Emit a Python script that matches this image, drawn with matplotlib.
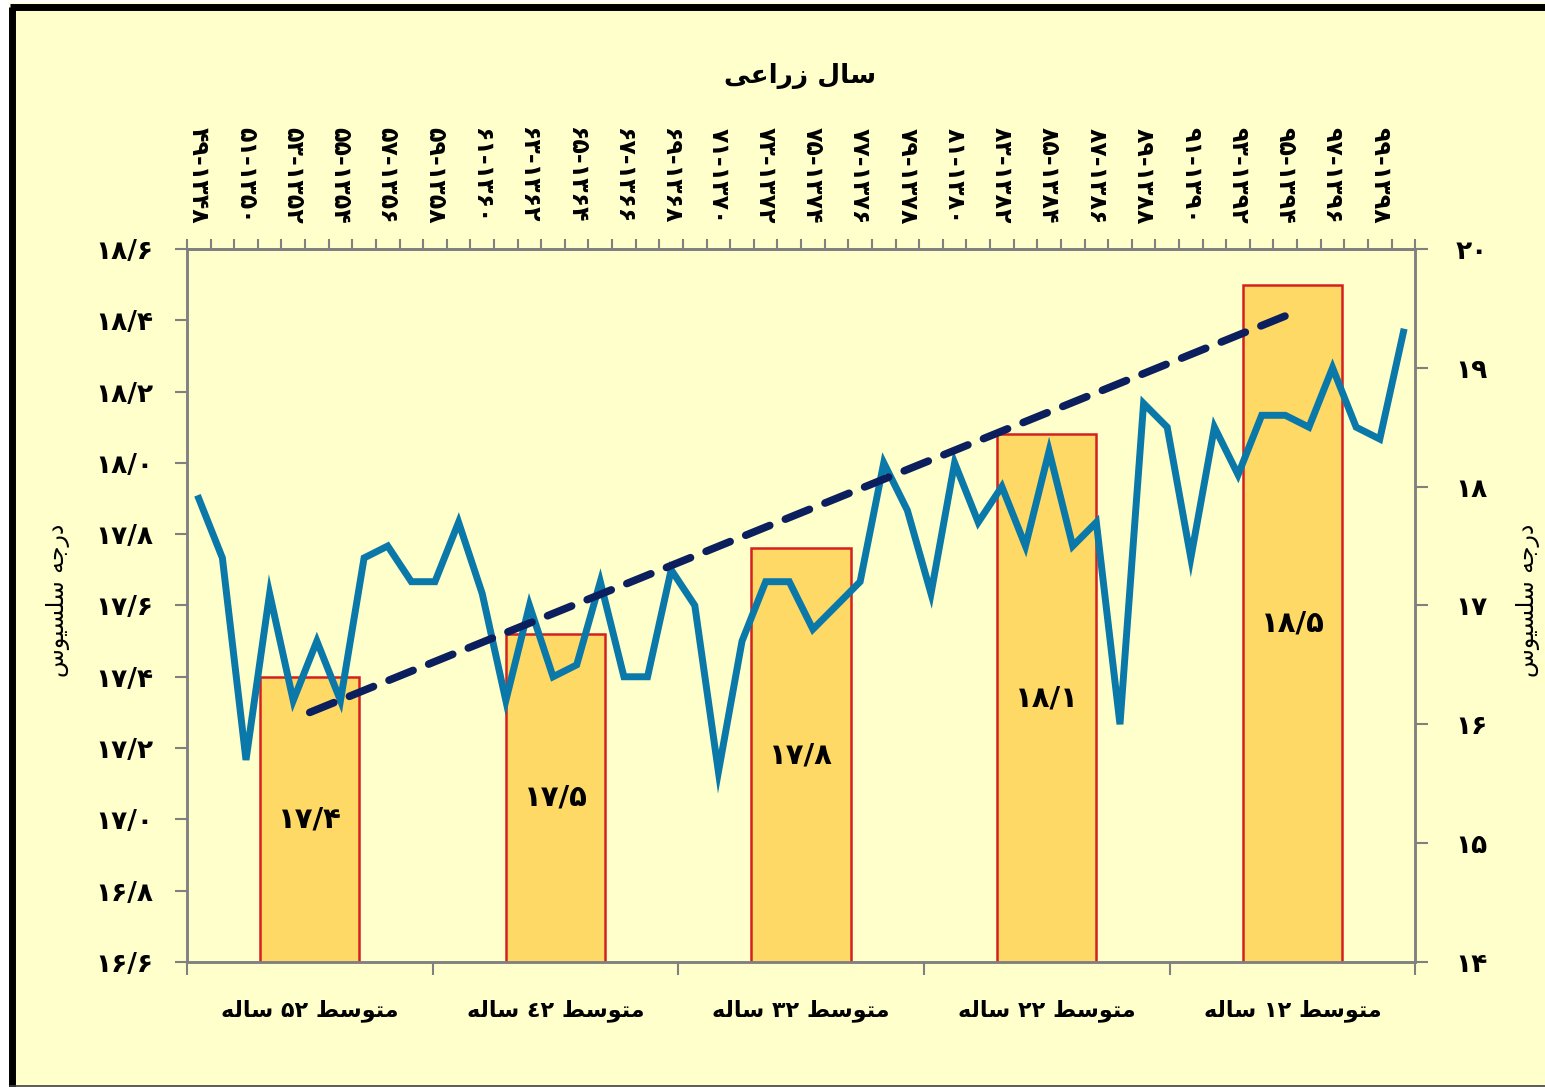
import numpy as np
import matplotlib
matplotlib.use("Agg")
import matplotlib.pyplot as plt
from matplotlib.patches import Rectangle
from matplotlib.lines import Line2D

# ------------------------------------------------------------
# DATA
# ------------------------------------------------------------
categories = ["متوسط ۵۲ ساله", "متوسط ٤۲ ساله", "متوسط ۳۲ ساله",
              "متوسط ۲۲ ساله", "متوسط ۱۲ ساله"]
bar_values = [17.4, 17.52, 17.76, 18.08, 18.5]

years = list(range(1348, 1400))  # سال زراعی 1348-49 ... 1399-1400
annual_temp = [17.9, 17.4, 15.7, 17.1, 16.2, 16.7, 16.2, 17.4, 17.5, 17.2,
               17.2, 17.7, 17.1, 16.2, 17.0, 16.4, 16.5, 17.2, 16.4, 16.4,
               17.3, 17.0, 15.6, 16.7, 17.2, 17.2, 16.8, 17.0, 17.2, 18.2,
               17.8, 17.1, 18.2, 17.7, 18.0, 17.5, 18.3, 17.5, 17.7, 16.0,
               18.7, 18.5, 17.4, 18.5, 18.1, 18.6, 18.6, 18.5, 19.0, 18.5,
               18.4, 19.3]

trend_ends = [17.3, 18.42]   # روند خطی (محور چپ) در اولین و آخرین ستون

left_ticks = [16.6, 16.8, 17.0, 17.2, 17.4, 17.6, 17.8, 18.0, 18.2, 18.4, 18.6]
right_ticks = [14, 15, 16, 17, 18, 19, 20]

# ------------------------------------------------------------
# HELPERS: persian digits + simple arabic shaping (no bidi in mpl)
# ------------------------------------------------------------
FA_DIGITS = str.maketrans("0123456789", "۰۱۲۳۴۵۶۷۸۹")

# isolated, final, initial, medial
FORMS = {
    "ا": ("\uFE8D", "\uFE8E", None, None),
    "د": ("\uFEA9", "\uFEAA", None, None),
    "ر": ("\uFEAD", "\uFEAE", None, None),
    "ز": ("\uFEAF", "\uFEB0", None, None),
    "و": ("\uFEED", "\uFEEE", None, None),
    "ت": ("\uFE95", "\uFE96", "\uFE97", "\uFE98"),
    "ج": ("\uFE9D", "\uFE9E", "\uFE9F", "\uFEA0"),
    "س": ("\uFEB1", "\uFEB2", "\uFEB3", "\uFEB4"),
    "ط": ("\uFEC1", "\uFEC2", "\uFEC3", "\uFEC4"),
    "ع": ("\uFEC9", "\uFECA", "\uFECB", "\uFECC"),
    "ل": ("\uFEDD", "\uFEDE", "\uFEDF", "\uFEE0"),
    "م": ("\uFEE1", "\uFEE2", "\uFEE3", "\uFEE4"),
    "ه": ("\uFEE9", "\uFEEA", "\uFEEB", "\uFEEC"),
    "ی": ("\uFEEF", "\uFEF0", "\uFEF3", "\uFEF4"),
}


def shape(word):
    out = []
    for i, ch in enumerate(word):
        f = FORMS.get(ch)
        if f is None:
            out.append(ch)
            continue
        prev = word[i - 1] if i > 0 else None
        nxt = word[i + 1] if i + 1 < len(word) else None
        jp = prev in FORMS and FORMS[prev][2] is not None
        jn = nxt in FORMS and f[2] is not None
        if jp and jn:
            out.append(f[3])
        elif jp:
            out.append(f[1])
        elif jn:
            out.append(f[2])
        else:
            out.append(f[0])
    return "".join(out)


def rtl(text):
    toks = []
    for t in text.split(" "):
        if any(c in FORMS for c in t):
            toks.append(shape(t)[::-1])
        else:
            toks.append(t)
    return " ".join(reversed(toks))


def fa_num(s):
    return s.replace(".", "/").translate(FA_DIGITS)


# ------------------------------------------------------------
# STYLE
# ------------------------------------------------------------
BG = "#FFFFCC"
GREY = "#808080"
plt.rcParams["font.family"] = ["DejaVu Sans"]

W, H = 1545, 1087
fig = plt.figure(figsize=(W / 100, H / 100), dpi=100, facecolor="white")
# yellow panel with thick black frame on left and top only
fig.patches.append(Rectangle((9 / W, 0), 1, 1 - 3 / H, transform=fig.transFigure,
                             facecolor=BG, edgecolor="none", zorder=-10))
fig.lines.append(Line2D([12.5 / W, 12.5 / W], [0, 1 - 6.5 / H], transform=fig.transFigure,
                        color="black", linewidth=5, solid_capstyle="butt", zorder=10))
fig.lines.append(Line2D([10 / W, 1], [1 - 6.5 / H, 1 - 6.5 / H], transform=fig.transFigure,
                        color="black", linewidth=5, solid_capstyle="butt", zorder=10))
fig.lines.append(Line2D([10 / W, 1], [1.5 / H, 1.5 / H], transform=fig.transFigure,
                        color="#404040", linewidth=1.2, zorder=10))

ax = fig.add_axes([0.121, 0.115, 0.795, 0.656])
ax.set_facecolor(BG)
n = len(years)
ax.set_xlim(0, n)
ax.set_ylim(left_ticks[0], left_ticks[-1])

# bars (left axis)
ncat = len(categories)
step = n / ncat
centers = [(k + 0.5) * step for k in range(ncat)]
ax.bar(centers, bar_values, width=4.2, color="#FFD966", edgecolor="#D42020",
       linewidth=1.8, zorder=2)
for c, v in zip(centers, bar_values):
    ax.text(c, (left_ticks[0] + v) / 2, fa_num(f"{v:.1f}"), ha="center", va="center",
            fontsize=21, fontweight="bold", zorder=3)

# left axis ticks
ax.set_yticks(left_ticks, [fa_num(f"{t:.1f}") for t in left_ticks],
              fontsize=19, fontweight="bold")
ax.tick_params(axis="y", direction="out", length=9, width=1.5, color=GREY, pad=15)

# bottom axis: boundaries + category labels
ax.set_xticks([k * step for k in range(ncat + 1)], [""] * (ncat + 1))
ax.set_xticks(centers, [rtl(c) for c in categories], minor=True,
              fontsize=16, fontweight="bold")
ax.tick_params(axis="x", which="major", direction="out", length=9, width=1.5, color=GREY)
ax.tick_params(axis="x", which="minor", length=0, pad=27)

for s in ax.spines.values():
    s.set_color(GREY)
    s.set_linewidth(1.8)

# line (right axis)
ax2 = ax.twinx()
ax2.set_ylim(right_ticks[0], right_ticks[-1])
xs = np.arange(n) + 0.5
ax2.plot(xs, annual_temp, color="#0A78A8", linewidth=5, solid_joinstyle="miter", zorder=4)
ax2.plot([centers[0], centers[-1]], trend_ends, transform=ax.transData,
         color="#0B1F5E", linewidth=5.5, dashes=(3.4, 2.2),
         dash_capstyle="round", zorder=5)
ax2.set_yticks(right_ticks, [fa_num(str(t)) for t in right_ticks],
               fontsize=19, fontweight="bold")
ax2.tick_params(axis="y", direction="out", length=9, width=1.5, color=GREY, pad=20)
for s in ax2.spines.values():
    s.set_color(GREY)
    s.set_linewidth(1.8)

# top axis: agricultural years
sec = ax.secondary_xaxis("top")
lab_idx = list(range(0, n, 2))
sec.set_xticks([i + 0.5 for i in lab_idx],
               [fa_num(f"{(years[i] + 1) % 100:02d}-{years[i]}") for i in lab_idx],
               rotation=-90, fontsize=17, fontweight="bold")
sec.set_xticks(np.arange(n + 1), minor=True)
sec.tick_params(which="major", length=0, pad=18)
sec.tick_params(which="minor", direction="out", length=7, width=1.5, color=GREY)
sec.spines["top"].set_color(GREY)
sec.spines["top"].set_linewidth(1.8)

# axis titles
fig.text(800 / W, 1 - 76 / H, rtl("سال زراعی"), ha="center", va="center",
         fontsize=19, fontweight="bold")
fig.text(58 / W, 1 - 600 / H, rtl("درجه سلسیوس"), ha="center", va="center",
         rotation=90, fontsize=17)
fig.text(1528 / W, 1 - 600 / H, rtl("درجه سلسیوس"), ha="center", va="center",
         rotation=90, fontsize=17)

fig.savefig("out.png", dpi=100, facecolor="white")
